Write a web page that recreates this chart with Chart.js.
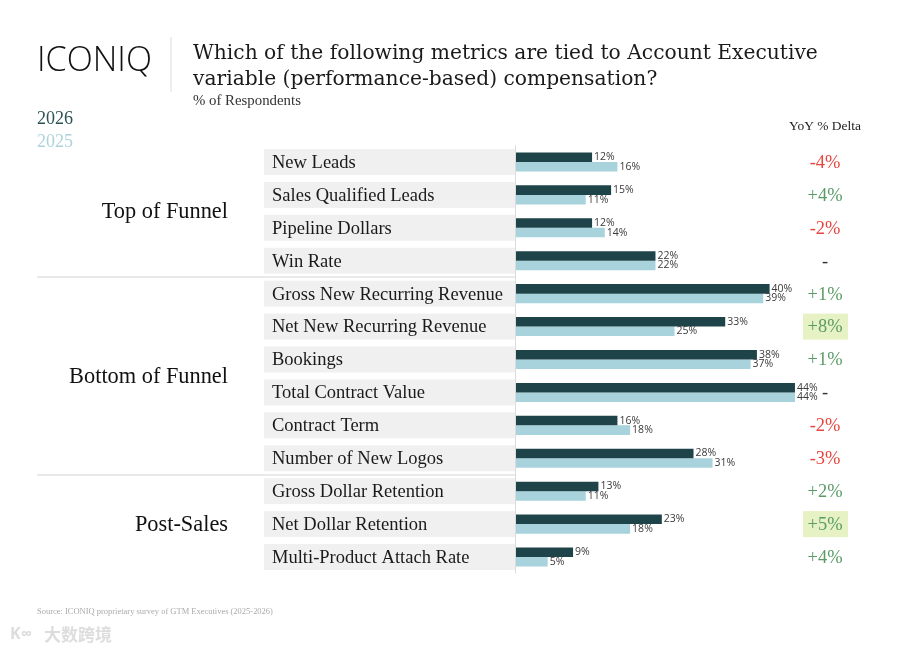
<!DOCTYPE html>
<html><head><meta charset="utf-8">
<script src="https://cdn.jsdelivr.net/npm/chart.js@4.4.1/dist/chart.umd.min.js"></script>
<style>html,body{margin:0;padding:0;background:#fff;}canvas{display:block}</style>
</head><body>
<canvas id="c" width="900" height="653"></canvas>
<script>
const categories = ['New Leads','Sales Qualified Leads','Pipeline Dollars','Win Rate','Gross New Recurring Revenue','Net New Recurring Revenue','Bookings','Total Contract Value','Contract Term','Number of New Logos','Gross Dollar Retention','Net Dollar Retention','Multi-Product Attach Rate'];
const values2026 = [12,15,12,22,40,33,38,44,16,28,13,23,9];
const values2025 = [16,11,14,22,39,25,37,44,18,31,11,18,5];
const yoyDelta = ['-4%','+4%','-2%','-','+1%','+8%','+1%','-','-2%','-3%','+2%','+5%','+4%'];
const highlightedRows = [5,11];
const groupNames = ['Top of Funnel','Bottom of Funnel','Post-Sales'];
const groupStart = [0,4,10];
const groupEnd = [3,9,12];
const seriesLabels = ['2026','2025'];

const SERIF = "'Liberation Serif','DejaVu Serif',serif";
const WSERIF = "'DejaVu Serif','Liberation Serif',serif";
const SANS = "'Open Sans','Noto Sans',sans-serif";
const DARK = '#1e4449';
const LIGHT = '#a9d3dc';

function fitSize(ctx, text, family, weight, targetW){
  ctx.font = weight + ' 100px ' + family;
  return 100 * targetW / ctx.measureText(text).width;
}
function txt(ctx, text, x, y, size, family, weight, color, align, base){
  ctx.font = weight + ' ' + size + 'px ' + family;
  ctx.fillStyle = color; ctx.textAlign = align || 'left'; ctx.textBaseline = base || 'middle';
  ctx.fillText(text, x, y);
}

const decor = {
  id:'decor',
  beforeDatasetsDraw(chart){
    const ctx = chart.ctx, ys = chart.scales.y;
    ctx.save();
    // header
    txt(ctx,'ICONIQ',37,61,fitSize(ctx,'ICONIQ',"'Open Sans',sans-serif",'300',115),"'Open Sans',sans-serif",'300','#111');
    ctx.fillStyle='#dddddd'; ctx.fillRect(170.5,37,1,55);
    const tS = fitSize(ctx,'Which of the following metrics are tied to Account Executive',WSERIF,'normal',625);
    txt(ctx,'Which of the following metrics are tied to Account Executive',193,54,tS,WSERIF,'normal','#1a1a1a');
    txt(ctx,'variable (performance-based) compensation?',193,80,tS,WSERIF,'normal','#1a1a1a');
    txt(ctx,'% of Respondents',193,101,fitSize(ctx,'% of Respondents',SERIF,'normal',108),SERIF,'normal','#333');
    const lS = fitSize(ctx,'2026',SERIF,'normal',36);
    txt(ctx,seriesLabels[0],37,119,lS,SERIF,'normal','#2d5254');
    txt(ctx,seriesLabels[1],37,142,lS,SERIF,'normal','#aed3dc');
    txt(ctx,'YoY % Delta',861,126,fitSize(ctx,'YoY % Delta',SERIF,'normal',72),SERIF,'normal','#222','right');
    // row label boxes
    const rS = fitSize(ctx,'Gross New Recurring Revenue',SERIF,'normal',231);
    const dS = fitSize(ctx,'+8%',SERIF,'normal',35);
    categories.forEach((c,i)=>{
      const y = ys.getPixelForValue(i);
      ctx.fillStyle='#f0f0f0'; ctx.fillRect(264,y-13,251,26);
      txt(ctx,c,272,y+1,rS,SERIF,'normal','#1a1a1a');
      if(highlightedRows.includes(i)){ ctx.fillStyle='#e6f2c4'; ctx.fillRect(803,y-13,45,26); }
      const d = yoyDelta[i];
      const col = d.startsWith('+') ? '#5a9b68' : (d==='-' ? '#333' : '#e8453f');
      txt(ctx,d,825,y+1,dS,SERIF,'normal',col,'center');
    });
    // groups
    const gS = fitSize(ctx,'Bottom of Funnel',SERIF,'normal',159);
    groupNames.forEach((g,k)=>{
      const y = (ys.getPixelForValue(groupStart[k]) + ys.getPixelForValue(groupEnd[k]))/2;
      txt(ctx,g,228,y+1,gS,SERIF,'normal','#111','right');
      if(k>0){
        const yl = (ys.getPixelForValue(groupStart[k]) + ys.getPixelForValue(groupStart[k]-1))/2;
        ctx.fillStyle='#d4d4d4'; ctx.fillRect(37,Math.round(yl)-0.5,478,1);
      }
    });
    // axis line
    ctx.fillStyle='#dcdcdc'; ctx.fillRect(515,chart.chartArea.top,1,chart.chartArea.bottom-chart.chartArea.top);
    // footer
    txt(ctx,'Source: ICONIQ proprietary survey of GTM Executives (2025-2026)',37,612,fitSize(ctx,'Source: ICONIQ proprietary survey of GTM Executives (2025-2026)',SERIF,'normal',236),SERIF,'normal','#aaaaaa');
    txt(ctx,'K∞',10,634,16,SANS,'bold','#dddddd');
    txt(ctx,'大数跨境',44,635,17,"'Noto Sans CJK SC',sans-serif",'bold','#dddddd');
    ctx.restore();
  },
  afterDatasetsDraw(chart){
    const ctx = chart.ctx;
    ctx.save();
    chart.data.datasets.forEach((ds,di)=>{
      chart.getDatasetMeta(di).data.forEach((el,i)=>{
        txt(ctx,ds.data[i]+'%',el.x+2,el.y,10.5,SANS,'normal','#3a3a3a','left');
      });
    });
    ctx.restore();
  }
};

new Chart(document.getElementById('c'),{
  type:'bar',
  data:{labels:categories,datasets:[
    {label:seriesLabels[0],data:values2026,backgroundColor:DARK,categoryPercentage:0.58,barPercentage:1,borderWidth:0},
    {label:seriesLabels[1],data:values2025,backgroundColor:LIGHT,categoryPercentage:0.58,barPercentage:1,borderWidth:0}
  ]},
  options:{
    indexAxis:'y',responsive:false,animation:false,
    layout:{padding:{left:516,right:67,top:145.5,bottom:79.5}},
    scales:{x:{display:false,min:0,max:50},y:{display:false}},
    plugins:{legend:{display:false},tooltip:{enabled:false}}
  },
  plugins:[decor]
});
</script>
</body></html>
